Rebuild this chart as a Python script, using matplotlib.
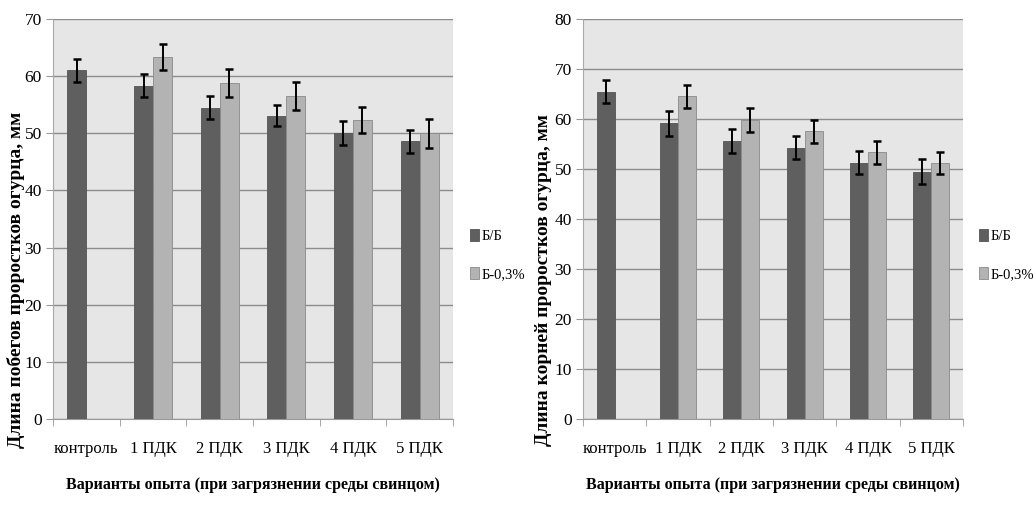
import matplotlib
matplotlib.use("Agg")
import matplotlib.pyplot as plt
import numpy as np

plt.rcParams['font.family'] = ['Liberation Serif', 'DejaVu Serif']

categories = ["контроль", "1 ПДК", "2 ПДК", "3 ПДК", "4 ПДК", "5 ПДК"]
series_names = ["Б/Б", "Б-0,3%"]

shoots_bb = [61.0, 58.3, 54.5, 53.1, 50.0, 48.6]
shoots_bb_err = [2.0, 2.0, 2.0, 1.9, 2.1, 2.0]
shoots_b03 = [np.nan, 63.4, 58.8, 56.5, 52.3, 50.0]
shoots_b03_err = [np.nan, 2.3, 2.4, 2.5, 2.3, 2.5]

roots_bb = [65.4, 59.1, 55.5, 54.2, 51.2, 49.4]
roots_bb_err = [2.3, 2.5, 2.4, 2.3, 2.3, 2.5]
roots_b03 = [np.nan, 64.5, 59.8, 57.5, 53.3, 51.2]
roots_b03_err = [np.nan, 2.3, 2.4, 2.3, 2.3, 2.2]

ylabel_left = "Длина побегов проростков огурца, мм"
ylabel_right = "Длина корней проростков огурца, мм"
xlabel = "Варианты опыта (при загрязнении среды свинцом)"

dark = "#5f5f5f"
light = "#b3b3b3"
bg = "#e6e6e6"

fig = plt.figure(figsize=(10.34, 5.08), dpi=100)
W, H = 1034, 508

def make(ax_rect, bb, bbe, b03, b03e, ymax, ylabel, legend_xy, ylab_x):
    ax = fig.add_axes(ax_rect)
    ax.set_facecolor(bg)
    x = np.arange(len(categories))
    w = 0.285
    ax.bar(x - w/2, bb, w, color=dark, edgecolor="#555555", linewidth=0.6, zorder=3, label=series_names[0])
    ax.bar(x + w/2, b03, w, color=light, edgecolor="#8a8a8a", linewidth=0.6, zorder=3, label=series_names[1])
    ax.errorbar(x - w/2, bb, yerr=bbe, fmt="none", ecolor="black", elinewidth=1.4, capsize=3, capthick=1.8, zorder=4)
    ax.errorbar(x + w/2, b03, yerr=b03e, fmt="none", ecolor="black", elinewidth=1.4, capsize=3, capthick=1.8, zorder=4)
    ax.set_xlim(-0.5, len(categories) - 0.5)
    ax.set_ylim(0, ymax)
    ax.set_yticks(np.arange(0, ymax + 1, 10))
    ax.yaxis.grid(True, color="#8c8c8c", linewidth=1.0, zorder=1)
    ax.set_axisbelow(True)
    ax.set_xticks(x)
    ax.set_xticklabels(categories, fontsize=12)
    ax.set_xticks(np.arange(-0.5, len(categories), 1.0), minor=True)
    ax.tick_params(axis="x", which="major", length=0, pad=16)
    ax.tick_params(axis="x", which="minor", length=5, color="#999999")
    ax.tick_params(axis="y", labelsize=12.5, length=5, color="#999999", pad=3)
    for s in ["top", "right"]:
        ax.spines[s].set_visible(False)
    ax.spines["left"].set_color("#aaaaaa")
    ax.spines["bottom"].set_color("#999999")
    ax.set_ylabel(ylabel, fontsize=14, fontweight="bold")
    ax.yaxis.set_label_coords(ylab_x, 0.3475)
    ax.set_xlabel(xlabel, fontsize=11.5, fontweight="bold", labelpad=14)
    h, l = ax.get_legend_handles_labels()
    fig.legend(h, l, loc="center left", bbox_to_anchor=legend_xy, frameon=False,
               fontsize=10.5, handlelength=0.6, handleheight=0.9, handletextpad=0.2,
               labelspacing=1.6, borderaxespad=0, borderpad=0)
    return ax

make([53/W, 1 - 419/H, 400/W, 400/H], shoots_bb, shoots_bb_err, shoots_b03, shoots_b03_err,
     70, ylabel_left, (470/W, 1 - 255/H), -0.07)
make([583/W, 1 - 419/H, 380/W, 400/H], roots_bb, roots_bb_err, roots_b03, roots_b03_err,
     80, ylabel_right, (979/W, 1 - 255/H), -0.082)

fig.savefig("out.png", dpi=100, facecolor="white")
